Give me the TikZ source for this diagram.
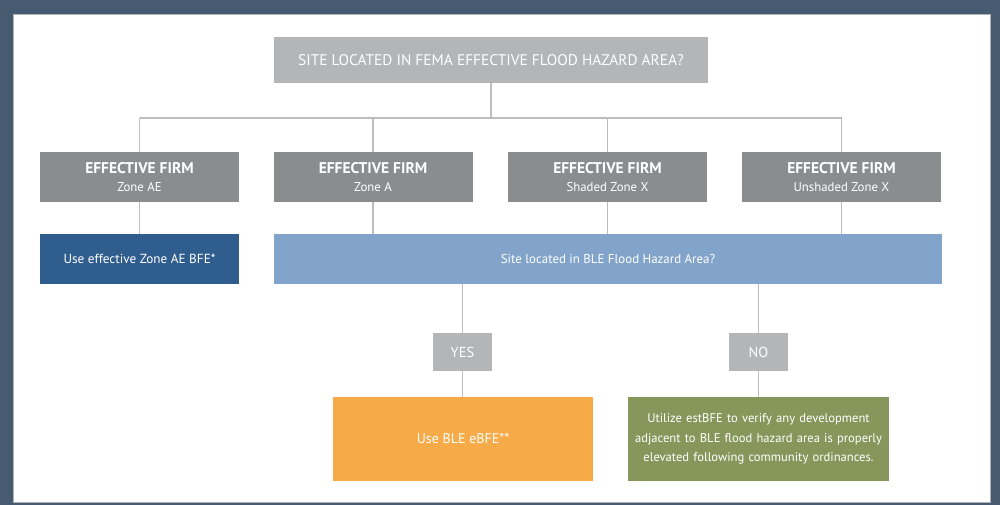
\documentclass[tikz,border=0pt]{standalone}
\usepackage{fontspec}
\setmainfont{PT Sans}
\definecolor{framebg}{HTML}{475B70}
\definecolor{topgray}{HTML}{B4B5B7}
\definecolor{firmgray}{HTML}{8B8C8E}
\definecolor{aeblue}{HTML}{2F5D8E}
\definecolor{bleblue}{HTML}{83A4CA}
\definecolor{eorange}{HTML}{F6AB48}
\definecolor{estgreen}{HTML}{87975B}
\definecolor{linkgray}{HTML}{BDBDBD}
\newcommand{\firmtitle}{{\fontsize{15.5}{17}\selectfont\bfseries EFFECTIVE FIRM}}
\tikzset{
  box/.style={rectangle,inner sep=0pt,text=white,align=center,font=\fontsize{13}{15}\selectfont},
  firmbox/.style={box,fill=firmgray,minimum width=199pt,minimum height=50pt,font=\fontsize{12.8}{18}\selectfont},
  answer/.style={box,fill=topgray,minimum width=59pt,minimum height=38pt,font=\fontsize{14.5}{15}\selectfont},
  link/.style={draw=linkgray,line width=1.3pt}
}
\begin{document}
\begin{tikzpicture}[x=1pt,y=-1pt]
  %% frame
  \fill[framebg] (0,0) rectangle (1000,505);
  \fill[white] (13,14) rectangle (990,502);
  \draw[gray!60,line width=0.6pt] (13,14) rectangle (990,502);
  %% question
  \node[box,fill=topgray,minimum width=434pt,minimum height=46pt,font=\fontsize{15.4}{17}\selectfont] (site) at (491,60) {SITE LOCATED IN FEMA EFFECTIVE FLOOD HAZARD AREA?};
  \coordinate (bar) at (491,118);
  %% effective firm zones
  \node[firmbox] (ae) at (139.5,177) {\firmtitle\\Zone AE};
  \node[firmbox] (za) at (373,177) {\firmtitle\\Zone A};
  \node[firmbox] (sx) at (607.5,177) {\firmtitle\\Shaded Zone X};
  \node[firmbox] (ux) at (841.5,177) {\firmtitle\\Unshaded Zone X};
  %% second row
  \node[box,fill=aeblue,minimum width=199pt,minimum height=50pt,font=\fontsize{13.2}{15}\selectfont] (useae) at (139.5,259) {Use effective Zone AE BFE*};
  \node[box,fill=bleblue,minimum width=668pt,minimum height=50pt,font=\fontsize{12.9}{15}\selectfont] (ble) at (608,259) {Site located in BLE Flood Hazard Area?};
  %% yes and no
  \node[answer] (yes) at (462.5,352) {YES};
  \node[answer] (no) at (758.5,352) {NO};
  \node[box,fill=eorange,minimum width=260pt,minimum height=84pt,font=\fontsize{14}{15}\selectfont] (ebfe) at (463,439) {Use BLE eBFE**};
  \node[box,fill=estgreen,minimum width=261pt,minimum height=84pt,text width=252pt,font=\fontsize{12.6}{19.5}\selectfont] (estbfe) at (758.5,439) {Utilize estBFE to verify any development adjacent to BLE flood hazard area is properly elevated following community ordinances.};
  %% connectors
  \draw[link] (site.south) -- (bar);
  \draw[link] (bar -| ae.north) -- (bar -| ux.north);
  \foreach \z in {ae,za,sx,ux}
    \draw[link] (bar -| \z.north) -- (\z.north);
  \draw[link] (ae.south) -- (useae.north);
  \foreach \z in {za,sx,ux}
    \draw[link] (\z.south) -- (\z.south |- ble.north);
  \draw[link] (yes.north |- ble.south) -- (yes.north);
  \draw[link] (no.north |- ble.south) -- (no.north);
  \draw[link] (yes.south) -- (yes.south |- ebfe.north);
  \draw[link] (no.south) -- (no.south |- estbfe.north);
\end{tikzpicture}
\end{document}
